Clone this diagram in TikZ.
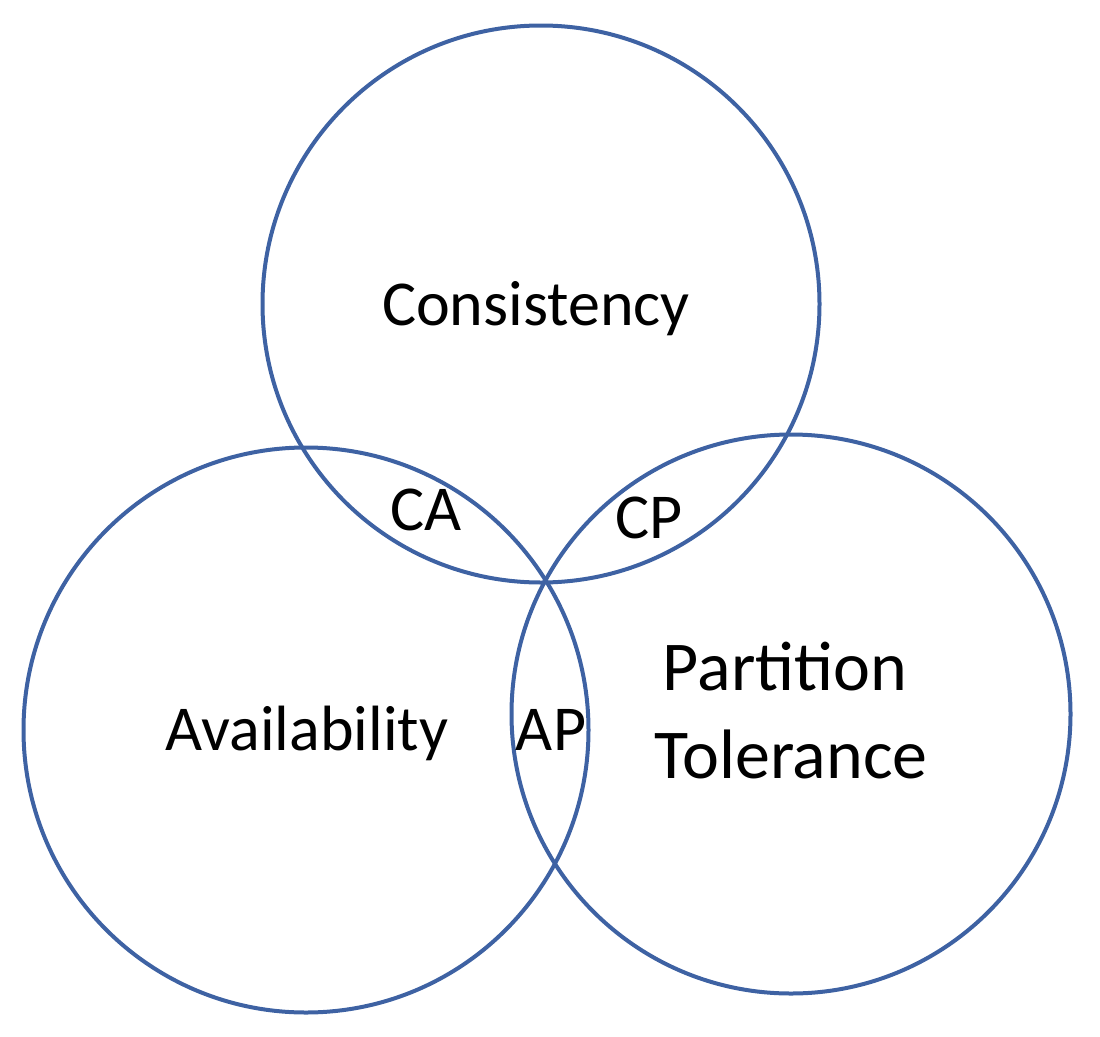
\documentclass[tikz,border=0pt]{standalone}
\usepackage{fontspec}
\setmainfont{Carlito}
\definecolor{ringblue}{RGB}{62,98,163}
\begin{document}
\begin{tikzpicture}[x=1pt,y=-1pt,
  ring/.style={circle,draw=ringblue,line width=4pt,inner sep=0pt,minimum size=#1},
  lbl/.style={anchor=base,inner sep=0pt,text=black,font=\fontsize{64}{70}\selectfont},
  biglbl/.style={anchor=base,inner sep=0pt,text=black,font=\fontsize{70}{88}\selectfont}]
\useasboundingbox (0,0) rectangle (1100,1036);
\node[ring=557pt] (top) at (541,304) {};
\node[ring=565pt] (left) at (306,730) {};
\node[ring=559pt] (right) at (791,714) {};
\node[lbl] (cons) at (536,325) {Consistency};
\node[lbl] (ca) at (426,530) {CA};
\node[lbl] (cp) at (649,538) {CP};
\node[lbl] (avail) at (307,750) {Availability};
\node[lbl] (ap) at (551,750) {AP};
\node[biglbl] (part) at (785,690) {Partition};
\node[biglbl] (tol) at (791,778) {Tolerance};
\end{tikzpicture}
\end{document}
